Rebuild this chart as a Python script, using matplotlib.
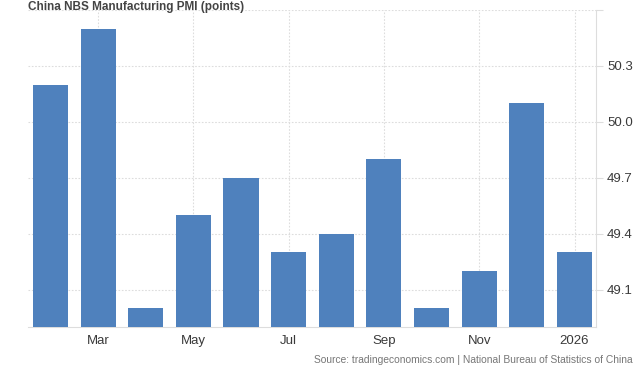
import matplotlib
matplotlib.use("Agg")
import matplotlib.pyplot as plt
import numpy as np

months = ["Feb", "Mar", "Apr", "May", "Jun", "Jul", "Aug", "Sep", "Oct", "Nov", "Dec", "2026"]
values = [50.2, 50.5, 49.0, 49.5, 49.7, 49.3, 49.4, 49.8, 49.0, 49.2, 50.1, 49.3]
xtick_labels = ["Mar", "May", "Jul", "Sep", "Nov", "2026"]
ytick_values = [49.1, 49.4, 49.7, 50.0, 50.3]
title = "China NBS Manufacturing PMI (points)"
source = "Source: tradingeconomics.com | National Bureau of Statistics of China"

plt.rcParams['font.family'] = ['Liberation Sans', 'DejaVu Sans']

fig = plt.figure(figsize=(6.44, 3.75), dpi=100)
ax = fig.add_axes([28/644, 1 - 327/375, (596-28)/644, (327-10)/375])

x = np.arange(len(values))
ax.bar(x, values, width=0.735, color="#4f81bd", bottom=0, zorder=3)
ax.set_ylim(48.9, 50.6)
ax.set_xlim(-0.47, len(values) - 1 + 0.45)

tick_pos = [months.index(m) for m in xtick_labels]
ax.set_xticks(tick_pos)
ax.set_xticklabels(xtick_labels, fontsize=9.5, color="#3a3a3a")
ax.set_yticks(ytick_values + [50.6])
ax.set_yticklabels([f"{v:.1f}" for v in ytick_values] + [""], fontsize=9.5, color="#3a3a3a")
ax.yaxis.tick_right()
ax.tick_params(axis='y', length=5, color="#dddddd", pad=3)
ax.tick_params(axis='x', length=0, pad=6)

ax.grid(True, color="#dddddd", linestyle=(0, (1.5, 1.5)), linewidth=0.8, zorder=0)
for s in ["top", "left"]:
    ax.spines[s].set_visible(False)
ax.spines["right"].set_color("#dddddd")
ax.spines["bottom"].set_color("#dddddd")

fig.text(28/644, 1 - 1/375, title, fontsize=8.5, fontweight="bold", color="#444444", va="top", ha="left")
fig.text(633/644, 1 - 360/375, source, fontsize=7.4, color="#777777", ha="right", va="center")

fig.savefig("out.png", dpi=100)
